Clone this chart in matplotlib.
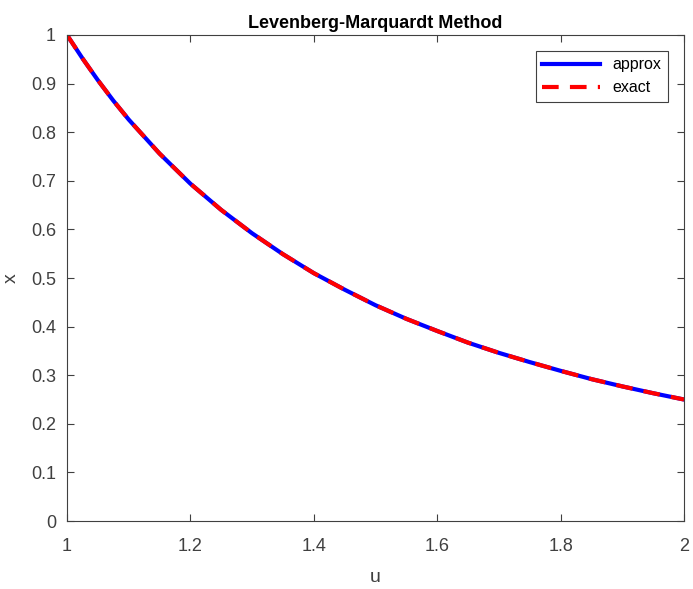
import matplotlib
matplotlib.use("Agg")
import matplotlib.pyplot as plt

# values
u = [1.000, 1.025, 1.05, 1.075, 1.10, 1.15, 1.20, 1.25, 1.30, 1.35, 1.40, 1.45, 1.50,
     1.55, 1.60, 1.65, 1.70, 1.75, 1.80, 1.85, 1.90, 1.95, 2.00]
x_approx = [1.000, 0.952, 0.907, 0.865, 0.826, 0.756, 0.694, 0.640, 0.592, 0.549, 0.510, 0.476, 0.444,
            0.416, 0.391, 0.367, 0.346, 0.327, 0.309, 0.292, 0.277, 0.263, 0.250]
x_exact = [1.000, 0.952, 0.907, 0.865, 0.826, 0.756, 0.694, 0.640, 0.592, 0.549, 0.510, 0.476, 0.444,
           0.416, 0.391, 0.367, 0.346, 0.327, 0.309, 0.292, 0.277, 0.263, 0.250]

plt.rcParams['font.family'] = ['Liberation Sans', 'DejaVu Sans']

fig = plt.figure(figsize=(6.93, 5.89), dpi=100)
ax = fig.add_axes([0.0967, 0.1154, 0.8903, 0.8252])

ax.plot(u, x_approx, color='#0000ff', lw=3, label='approx')
ax.plot(u, x_exact, color='#ff0000', lw=3, ls=(0, (4, 2.7)), label='exact')

ax.set_xlim(1, 2)
ax.set_ylim(0, 1)
ax.set_xticks([1, 1.2, 1.4, 1.6, 1.8, 2])
ax.set_xticklabels(['1', '1.2', '1.4', '1.6', '1.8', '2'])
ax.set_yticks([i / 10 for i in range(11)])
ax.set_yticklabels(['0', '0.1', '0.2', '0.3', '0.4', '0.5', '0.6', '0.7', '0.8', '0.9', '1'])

for s in ax.spines.values():
    s.set_color('#404040')
    s.set_linewidth(0.8)
ax.tick_params(direction='in', top=True, right=True, length=5, width=0.8,
               colors='#404040', labelsize=13)
ax.tick_params(axis='x', pad=12)
ax.tick_params(axis='y', pad=8)

ax.set_xlabel('u', fontsize=14, color='#404040', labelpad=10)
ax.set_ylabel('x', fontsize=14, color='#404040', labelpad=8)
ax.set_title('Levenberg-Marquardt Method', fontsize=13, fontweight='bold', pad=5)

leg = ax.legend(loc='upper right', fontsize=11.5, fancybox=False, framealpha=1,
                edgecolor='#404040', handlelength=3.6, borderaxespad=1.0)
leg.get_frame().set_linewidth(0.8)

fig.savefig('out.png', dpi=100)
